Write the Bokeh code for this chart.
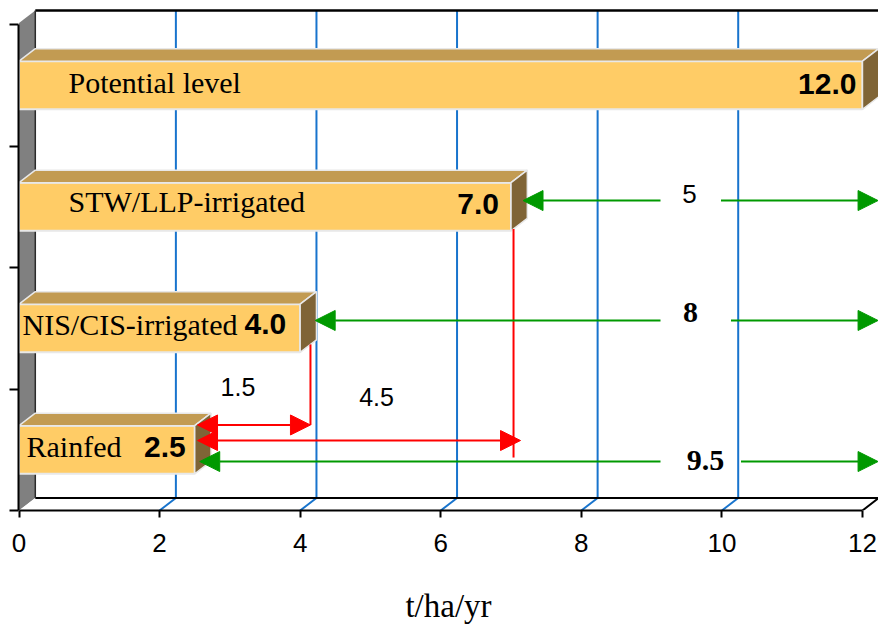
from bokeh.plotting import figure
from bokeh.models import Range1d, FixedTicker, Arrow, NormalHead
from bokeh.core.properties import value
from bokeh.embed import file_html
from bokeh.resources import INLINE

# ---------------- data ----------------
categories = ["Rainfed", "NIS/CIS-irrigated", "STW/LLP-irrigated", "Potential level"]
yields = [2.5, 4.0, 7.0, 12.0]
x_ticks = [0, 2, 4, 6, 8, 10, 12]
axis_title = "t/ha/yr"

potential = yields[-1]
gaps_to_potential = [potential - v for v in yields[:-1]]      # 9.5, 8, 5
gaps_to_rainfed = [yields[1] - yields[0], yields[2] - yields[0]]  # 1.5, 4.5

# ---------------- layout ----------------
W, H = 878, 626
PX = 70.29          # pixels per t/ha
PY = 121.5          # pixels per category band
FRAME_L = 18
FRAME_B = 116
frame_w = W - FRAME_L
frame_h = H - FRAME_B
x0 = -0.5 / PX
xr = Range1d(x0, x0 + frame_w / PX)
yr = Range1d(0, frame_h / PY)
DX = 16.3 / PX      # depth offset (3-D look)
DY = 12.5 / PY
WALL_TOP = 500 / PY
HALF = 0.198
centers = [i + 0.5 for i in range(len(categories))]
n_cat = len(categories)

FRONT = "#FFCC66"
TOP = "#C29B52"
SIDE = "#7F6436"
EDGE = "#E8E8E8"
GRID = "#1874CD"
RED = "#FF0000"
GREEN = "#009900"

p = figure(width=W, height=H, x_range=xr, y_range=yr, output_backend="svg",
           toolbar_location=None, min_border_left=FRAME_L, min_border_right=0,
           min_border_top=0, min_border_bottom=FRAME_B)
p.grid.visible = False
p.outline_line_color = None
p.background_fill_color = "white"
p.border_fill_color = "white"

# x axis
xa = p.xaxis[0]
xa.ticker = FixedTicker(ticks=x_ticks)
xa.bounds = (x_ticks[0], x_ticks[-1])
xa.axis_line_width = 2
xa.axis_line_color = "black"
xa.major_tick_out = 7
xa.major_tick_in = 0
xa.major_tick_line_width = 2
xa.minor_tick_line_color = None
xa.major_label_text_font = "Liberation Sans"
xa.major_label_text_font_size = "26px"
xa.major_label_text_color = "black"
xa.major_label_standoff = 16
xa.axis_label = axis_title
xa.axis_label_text_font = "Liberation Serif"
xa.axis_label_text_font_size = "33px"
xa.axis_label_text_font_style = "normal"
xa.axis_label_text_color = "black"
xa.axis_label_standoff = 33

# y axis (ticks only)
ya = p.yaxis[0]
ya.ticker = FixedTicker(ticks=list(range(n_cat + 1)))
ya.bounds = (0, n_cat)
ya.axis_line_width = 2
ya.major_tick_out = 9
ya.major_tick_in = 0
ya.major_tick_line_width = 2
ya.minor_tick_line_color = None
ya.major_label_text_font_size = "0px"
ya.major_label_standoff = 0
ya.major_label_overrides = {i: "" for i in range(n_cat + 1)}

# ---------------- 3-D box: walls, floor, grid ----------------
p.patch([0, DX, DX, 0], [0, DY, WALL_TOP, WALL_TOP - DY], fill_color="#808080", line_color=None)
grid_x = x_ticks[1:-1]
p.segment(x0=[g + DX for g in grid_x], y0=DY, x1=[g + DX for g in grid_x], y1=WALL_TOP,
          line_color=GRID, line_width=2)
p.segment(x0=DX, y0=WALL_TOP, x1=xr.end, y1=WALL_TOP, line_color="black", line_width=2.5)
p.patch([0, x_ticks[-1], x_ticks[-1] + DX, DX], [0, 0, DY, DY], fill_color="white", line_color=None)
p.segment(x0=grid_x, y0=0, x1=[g + DX for g in grid_x], y1=DY, line_color=GRID, line_width=2)
p.multi_line([[DX, x_ticks[-1] + DX], [x_ticks[-1], x_ticks[-1] + DX]], [[DY, DY], [0, DY]],
             line_color="black", line_width=2)
p.line([DX, DX], [DY, WALL_TOP], line_color="#2b2b2b", line_width=1.5)

# ---------------- bars ----------------
p.quad(left=0, right=yields, bottom=[c - HALF for c in centers], top=[c + HALF for c in centers],
       fill_color=FRONT, line_color=EDGE, line_width=2)
p.patches([[0, v, v + DX, DX] for v in yields],
          [[c + HALF, c + HALF, c + HALF + DY, c + HALF + DY] for c in centers],
          fill_color=TOP, line_color=EDGE, line_width=1.5)
p.patches([[v, v + DX, v + DX, v] for v in yields],
          [[c - HALF, c - HALF + DY, c + HALF + DY, c + HALF] for c in centers],
          fill_color=SIDE, line_color=EDGE, line_width=1.5)

name_px = [7.5, 3.5, 49.5, 49.5]
name_dy = [-3, -4, -5, -3]
p.text(x=[0] * n_cat, y=centers, text=categories, x_offset=name_px, y_offset=name_dy,
       text_baseline="middle", text_align="left", text_font=value("Liberation Serif"),
       text_font_size="30px", text_color="black")
val_px = [-9, -14, -12, -6]
val_dy = [-3, -4, -3, -1]
p.text(x=yields, y=centers, text=[f"{v:.1f}" for v in yields], x_offset=val_px, y_offset=val_dy,
       text_baseline="middle", text_align="right", text_font=value("Liberation Sans"),
       text_font_size="30px", text_font_style="bold", text_color="black")

# ---------------- green arrows: gap to potential ----------------
RIGHT_TIP = x_ticks[-1] + DX - 0.01
GAP_L = (660 - 18.5) / PX
green_dy = [-0.097, 0.064, 0.051]
green_tip_px = [5, 15, 12]
gap_r_px = [722, 712, 702]   # pixel position of right part start (from x=0)
green_lab_dx = [686.5, 671.5, 670.5]
green_lab_dy = [-1.5, -8, -7]
green_font = ["Liberation Serif", "Liberation Serif", "Liberation Sans"]
green_style = ["bold", "bold", "normal"]
green_size = ["30px", "30px", "26px"]
for i, g in enumerate(gaps_to_potential):
    y = centers[i] + green_dy[i]
    tip = yields[i] + green_tip_px[i] / PX
    p.add_layout(Arrow(x_start=GAP_L, y_start=y, x_end=tip, y_end=y, start=None,
                       end=NormalHead(size=20, fill_color=GREEN, line_color=GREEN),
                       line_color=GREEN, line_width=2))
    p.add_layout(Arrow(x_start=gap_r_px[i] / PX, y_start=y, x_end=RIGHT_TIP, y_end=y, start=None,
                       end=NormalHead(size=20, fill_color=GREEN, line_color=GREEN),
                       line_color=GREEN, line_width=2))
    p.text(x=[green_lab_dx[i] / PX], y=[y], text=[f"{g:g}"], y_offset=green_lab_dy[i],
           text_align="center", text_baseline="middle", text_font=value(green_font[i]),
           text_font_style=green_style[i], text_font_size=green_size[i], text_color="black")

# ---------------- red arrows: gain over rainfed ----------------
red_dy = [0.204, 0.076]
red_tip_px = [10.3, 9.5]
red_vert_px = [10.3, 2.5]
red_vert_bottom = [0.0, -0.14]
red_lab_off = [(-16, -37.5), (17.5, -44)]
for k, g in enumerate(gaps_to_rainfed):
    j = k + 1
    y = centers[0] + red_dy[k]
    xs = yields[0] + 2.8 / PX
    xe = yields[j] + red_tip_px[k] / PX
    p.add_layout(Arrow(x_start=xs, y_start=y, x_end=xe, y_end=y,
                       start=NormalHead(size=20, fill_color=RED, line_color=RED),
                       end=NormalHead(size=20, fill_color=RED, line_color=RED),
                       line_color=RED, line_width=2))
    vx = yields[j] + red_vert_px[k] / PX
    vtop = centers[j] - HALF + (red_vert_px[k] / 16.3) * DY
    p.segment(x0=vx, y0=vtop, x1=vx, y1=y + red_vert_bottom[k], line_color=RED, line_width=2)
    p.text(x=[(xs + xe) / 2], y=[y], text=[f"{g:g}"], x_offset=red_lab_off[k][0],
           y_offset=red_lab_off[k][1], text_align="center", text_baseline="middle",
           text_font=value("Liberation Sans"), text_font_size="25px", text_color="black")

open("out.html", "w").write(file_html(p, INLINE))
